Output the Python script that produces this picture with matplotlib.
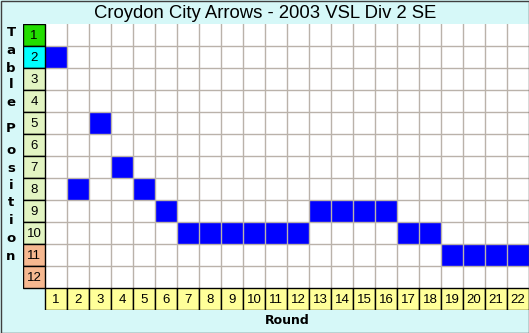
import matplotlib
matplotlib.use("Agg")
from matplotlib import pyplot as plt
from matplotlib.patches import Rectangle

# ── Data ──────────────────────────────────────────────────────────────────────
title = "Croydon City Arrows - 2003 VSL Div 2 SE"
rounds = list(range(1, 23))
positions = [2, 8, 5, 7, 8, 9, 10, 10, 10, 10, 10, 10,
             9, 9, 9, 9, 10, 10, 11, 11, 11, 11]
table_places = list(range(1, 13))
place_colors = ["#22dd00", "#00ffff"] + ["#e2f4c2"] * 8 + ["#f6b890"] * 2
side_label = "Table Position"

# ── Style ─────────────────────────────────────────────────────────────────────
BG = "#d6f8f8"
GRID = "#bab2aa"
BAR = "#0000ff"
ROUND_BG = "#ffff99"

W, H = 529, 333
fig = plt.figure(figsize=(W / 100, H / 100), dpi=100)
fig.patch.set_facecolor(BG)

# axes spans label column + grid (x 23..529) and grid + round row (y 24..310)
ax = fig.add_axes([23 / W, (H - 310) / H, (W - 23) / W, 286 / H])
ax.set_xlim(-0.5, 22.5)
ax.set_ylim(13.5, 0.5)
ax.axis("off")
ax.patch.set_alpha(0)

n_rounds = len(rounds)
n_places = len(table_places)

# white plotting area
ax.add_patch(Rectangle((0.5, 0.5), n_rounds, n_places, facecolor="white",
                       edgecolor="none", zorder=1))

# blue position bars
ax.bar(rounds, [1] * n_rounds, bottom=[p - 0.5 for p in positions], width=1.0,
       color=BAR, linewidth=0, zorder=2)

# grid lines
for r in range(1, n_rounds):
    ax.plot([r + 0.5, r + 0.5], [0.5, n_places + 0.5], color=GRID, lw=1.0,
            zorder=3)
for p in range(1, n_places):
    ax.plot([0.5, n_rounds + 0.5], [p + 0.5, p + 0.5], color=GRID, lw=1.0,
            zorder=3)

# table position cells
for p, c in zip(table_places, place_colors):
    ax.add_patch(Rectangle((-0.5, p - 0.5), 1, 1, facecolor=c,
                           edgecolor="black", lw=1.0, zorder=4))
    ax.text(0, p + 0.03, str(p), ha="center", va="center", fontsize=9.5,
            family="Liberation Sans", zorder=5)

# round cells
for r in rounds:
    ax.add_patch(Rectangle((r - 0.5, n_places + 0.5), 1, 1, facecolor=ROUND_BG,
                           edgecolor="black", lw=1.0, zorder=4))
    ax.text(r, n_places + 1.03, str(r), ha="center", va="center", fontsize=9.5,
            family="Liberation Sans", zorder=5)

# ── Text ──────────────────────────────────────────────────────────────────────
fig.text(265 / W, 1 - 13 / H, title, ha="center", va="center", fontsize=13.3,
         family="Liberation Sans")
fig.text(287 / W, 1 - 321 / H, "Round", ha="center", va="center", fontsize=9,
         fontweight="bold", family="DejaVu Sans")

letter_y = [33, 51, 68, 85, 102, None, 128, 150, 169, 186, 203, 220, 238, 256]
for ch, yy in zip(side_label, letter_y):
    if yy is None:
        continue
    fig.text(11 / W, 1 - yy / H, ch, ha="center", va="center", fontsize=9.5,
             fontweight="bold", family="DejaVu Sans")

# outer border
fig.add_artist(Rectangle((0.5 / W, 0.5 / H), (W - 1) / W, (H - 1) / H,
                         transform=fig.transFigure, fill=False,
                         edgecolor="#404040", lw=1.0))

fig.savefig("out.png", dpi=100, facecolor=fig.get_facecolor())
